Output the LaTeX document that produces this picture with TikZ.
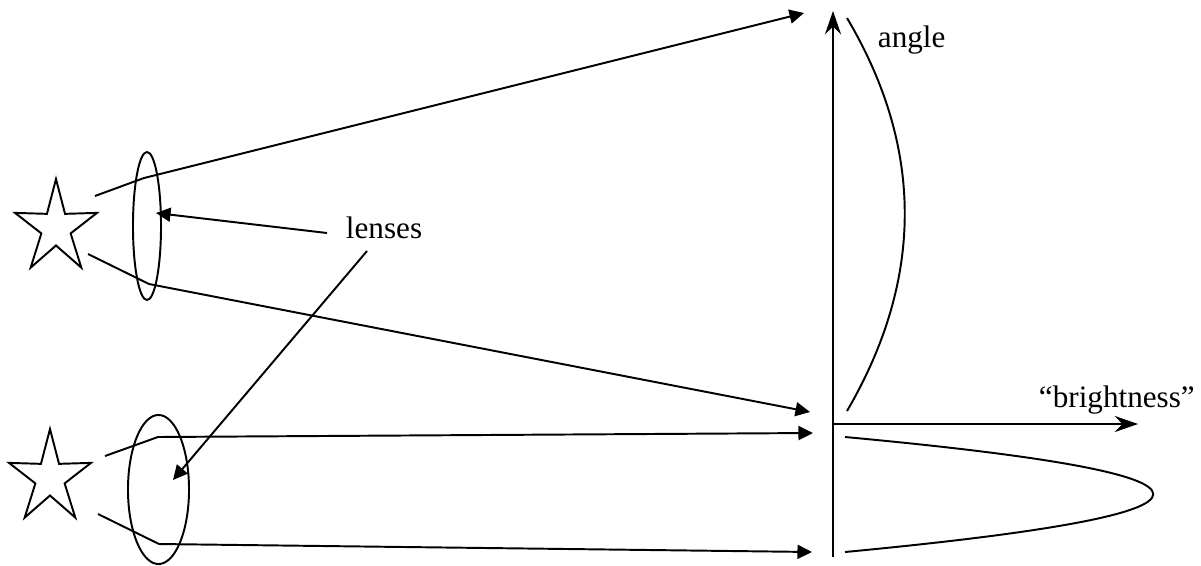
\documentclass[tikz,border=0pt]{standalone}
\usepackage{fontspec}
\setmainfont{Liberation Serif}
\usetikzlibrary{shapes.geometric,arrows.meta}

\begin{document}
\begin{tikzpicture}[x=0.385pt,y=-0.385pt,line width=0.75pt,
    font=\fontsize{12}{14}\selectfont,
    ray/.style={-{Triangle[length=5.6pt,width=5.4pt]}},
    axis/.style={-{Stealth[length=9pt,width=6.2pt,inset=3pt]}},
    lens/.style={draw,ellipse,inner sep=0pt},
    sun/.style={draw,star,star points=5,star point ratio=2.8,minimum size=37.7pt,inner sep=0pt,xscale=0.88}]
        \useasboundingbox (0,0) rectangle (1201,565);
        % stars and lenses
        \node[sun] (star1) at (56,228) {};
        \node[sun] (star2) at (50,478) {};
        \node[lens, minimum width=10.8pt, minimum height=57pt] (lens1) at (147,226) {};
        \node[lens, minimum width=23.5pt, minimum height=57.4pt] (lens2) at (158.5,489.5) {};
        % ray points
        \coordinate (r1a) at (95,196);
        \coordinate (r1b) at (144,178);
        \coordinate (r1c) at (804,13);
        \coordinate (r2a) at (88,254);
        \coordinate (r2b) at (149,284);
        \coordinate (r2c) at (810,412);
        \coordinate (r3a) at (105,456);
        \coordinate (r3b) at (158,437);
        \coordinate (r3c) at (813,433);
        \coordinate (r4a) at (98,514);
        \coordinate (r4b) at (159,544);
        \coordinate (r4c) at (812,552);
        \draw[ray] (r1a) -- (r1b) -- (r1c);
        \draw[ray] (r2a) -- (r2b) -- (r2c);
        \draw[ray] (r3a) -- (r3b) -- (r3c);
        \draw[ray] (r4a) -- (r4b) -- (r4c);
        % axes
        \coordinate (origin) at (833,424);
        \coordinate (bottom) at (833,557);
        \coordinate (top) at (833,11);
        \coordinate (right) at (1138,424);
        \draw[axis] (bottom) -- (top);
        \draw[axis] (origin) -- (right);
        \node[anchor=base west, inner sep=0pt] (angle) at (877,47) {angle};
        \node[anchor=base west, inner sep=0pt] (bright) at (1038,407) {“brightness”};
        % brightness curves
        \draw (847,18) .. controls (924,148) and (924,279) .. (847,411);
        \draw (845,437) .. controls (1256,475) and (1256,513) .. (845,552);
        % lenses label
        \node[anchor=base west, inner sep=0pt] (lenses) at (345,238) {lenses};
        \coordinate (l1) at (327,233);
        \coordinate (l2) at (367,251);
        \coordinate (t1) at (156,213);
        \coordinate (t2) at (173,480);
        \draw[ray] (l1) -- (t1);
        \draw[ray] (l2) -- (t2);
\end{tikzpicture}
\end{document}
